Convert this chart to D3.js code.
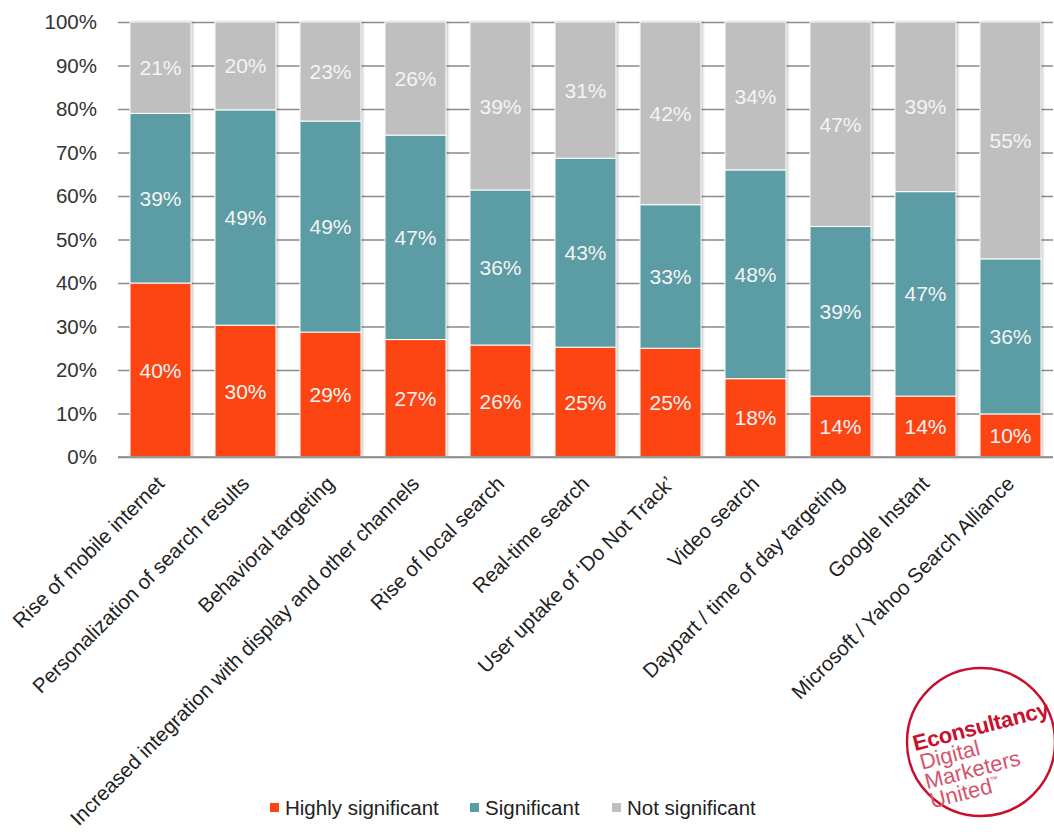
<!DOCTYPE html>
<html>
<head>
<meta charset="utf-8">
<script src="https://cdn.jsdelivr.net/npm/d3@7/dist/d3.min.js"></script>
<style>
  html, body { margin: 0; padding: 0; background: #fff; }
  svg { display: block; font-family: "Liberation Sans", Arial, sans-serif; }
</style>
</head>
<body>
<svg id="chart" width="1054" height="836"></svg>
<script>
// Survey categories and their share of responses per significance level
const categories = [
  "Rise of mobile internet",
  "Personalization of search results",
  "Behavioral targeting",
  "Increased integration with display and other channels",
  "Rise of local search",
  "Real-time search",
  "User uptake of \u2018Do Not Track\u2019",
  "Video search",
  "Daypart / time of day targeting",
  "Google Instant",
  "Microsoft / Yahoo Search Alliance"
];
const highlySignificant = [40, 30, 29, 27, 26, 25, 25, 18, 14, 14, 10];
const significant       = [39, 49, 49, 47, 36, 43, 33, 48, 39, 47, 36];
const notSignificant    = [21, 20, 23, 26, 39, 31, 42, 34, 47, 39, 55];

const seriesNames = ["Highly significant", "Significant", "Not significant"];
const seriesKeys  = ["high", "sig", "not"];
const seriesColors = ["#fc4513", "#5b9ca5", "#bfbfbf"];
const yTicks = [0, 0.1, 0.2, 0.3, 0.4, 0.5, 0.6, 0.7, 0.8, 0.9, 1];

const rows = categories.map((c, i) => ({
  category: c,
  high: highlySignificant[i],
  sig: significant[i],
  not: notSignificant[i]
}));

const svg = d3.select("#chart");
const margin = { left: 118, right: 1, top: 22, bottom: 379 };
const W = 1054, H = 836;

const x = d3.scaleBand()
  .domain(categories)
  .range([margin.left, W - margin.right])
  .paddingInner(24 / 85)
  .paddingOuter(12 / 85);

const y = d3.scaleLinear().domain([0, 1]).range([H - margin.bottom, margin.top]);

// soft shadow behind each column
const defs = svg.append("defs");
const f = defs.append("filter").attr("id", "shadow")
  .attr("x", "-20%").attr("y", "-5%").attr("width", "140%").attr("height", "110%");
f.append("feDropShadow").attr("dx", 1.5).attr("dy", 0).attr("stdDeviation", 1.6)
  .attr("flood-color", "#000").attr("flood-opacity", 0.28);

// gridlines
const grid = d3.axisLeft(y).tickValues(yTicks).tickSize(-(W - margin.right - margin.left)).tickFormat("");
svg.append("g")
  .attr("transform", `translate(${margin.left},0)`)
  .call(grid)
  .call(g => g.select(".domain").remove())
  .call(g => g.selectAll("line").attr("stroke", "#8a8a8a").attr("stroke-width", 1.5));

// y axis labels
const yAxis = d3.axisLeft(y).tickValues(yTicks).tickSize(0).tickPadding(21)
  .tickFormat(d => Math.round(d * 100) + "%");
svg.append("g")
  .attr("transform", `translate(${margin.left},0)`)
  .call(yAxis)
  .call(g => g.select(".domain").remove())
  .call(g => g.selectAll("text")
    .attr("font-size", 20.5).attr("fill", "#333").attr("font-family", "Liberation Sans, Arial, sans-serif"));

// stacked 100% columns
const stacked = d3.stack().keys(seriesKeys).offset(d3.stackOffsetExpand)(rows);

// shadows drawn as one column per category
svg.append("g").selectAll("rect")
  .data(rows)
  .join("rect")
  .attr("x", d => x(d.category))
  .attr("width", x.bandwidth())
  .attr("y", y(1))
  .attr("height", y(0) - y(1))
  .attr("fill", "#fff")
  .attr("filter", "url(#shadow)");

const segs = svg.append("g").selectAll("g")
  .data(stacked)
  .join("g")
  .attr("fill", (d, i) => seriesColors[i]);

segs.selectAll("rect")
  .data(d => d)
  .join("rect")
  .attr("x", d => x(d.data.category))
  .attr("width", x.bandwidth())
  .attr("y", d => y(d[1]))
  .attr("height", d => y(d[0]) - y(d[1]))
  .attr("stroke", "#fff")
  .attr("stroke-width", 1);

// value labels
segs.each(function(layer) {
  const key = layer.key;
  d3.select(this).selectAll("text")
    .data(layer)
    .join("text")
    .attr("x", d => x(d.data.category) + x.bandwidth() / 2)
    .attr("y", d => (y(d[0]) + y(d[1])) / 2)
    .attr("dy", "0.36em")
    .attr("text-anchor", "middle")
    .attr("font-size", 21)
    .attr("fill", "#f4f4f4")
    .text(d => d.data[key] + "%");
});

// baseline
svg.append("line")
  .attr("x1", margin.left).attr("x2", W - margin.right)
  .attr("y1", y(0)).attr("y2", y(0))
  .attr("stroke", "#8a8a8a").attr("stroke-width", 1.5);

// rotated category labels
const xAxis = d3.axisBottom(x).tickSize(0).tickPadding(0);
svg.append("g")
  .attr("transform", `translate(0,${y(0)})`)
  .call(xAxis)
  .call(g => g.select(".domain").remove())
  .call(g => g.selectAll("text")
    .attr("font-size", 20.5)
    .attr("fill", "#222")
    .attr("font-family", "Liberation Sans, Arial, sans-serif")
    .attr("text-anchor", "end")
    .attr("dy", 0)
    .attr("y", 0)
    .attr("transform", "translate(5,28) rotate(-45)"));

// legend
const legendX = [270, 470, 612];
const legend = svg.append("g");
seriesNames.forEach((name, i) => {
  legend.append("rect")
    .attr("x", legendX[i]).attr("y", 803)
    .attr("width", 9).attr("height", 9)
    .attr("fill", seriesColors[i]);
  legend.append("text")
    .attr("x", legendX[i] + 15).attr("y", 815)
    .attr("font-size", 20.5).attr("fill", "#222")
    .text(name);
});

// Econsultancy stamp
const logo = svg.append("g");
logo.append("circle")
  .attr("cx", 981).attr("cy", 742).attr("r", 74)
  .attr("fill", "none").attr("stroke", "#c8102e").attr("stroke-width", 2.5);
const lt = logo.append("g").attr("transform", "translate(915,751) rotate(-14.5)");
lt.append("text").attr("x", 0).attr("y", 0)
  .attr("font-size", 22).attr("font-weight", "bold").attr("fill", "#c8102e")
  .attr("letter-spacing", -0.3)
  .text("Econsultancy");
[["Digital", 20], ["Marketers", 40], ["United", 60]].forEach(([t, dy], i) => {
  const tx = lt.append("text").attr("x", 2).attr("y", dy)
    .attr("font-size", 22).attr("fill", "#d6546c")
    .text(t);
  if (i === 2) {
    tx.append("tspan").attr("font-size", 8).attr("dy", -10).text("\u2122");
  }
});
</script>
</body>
</html>
